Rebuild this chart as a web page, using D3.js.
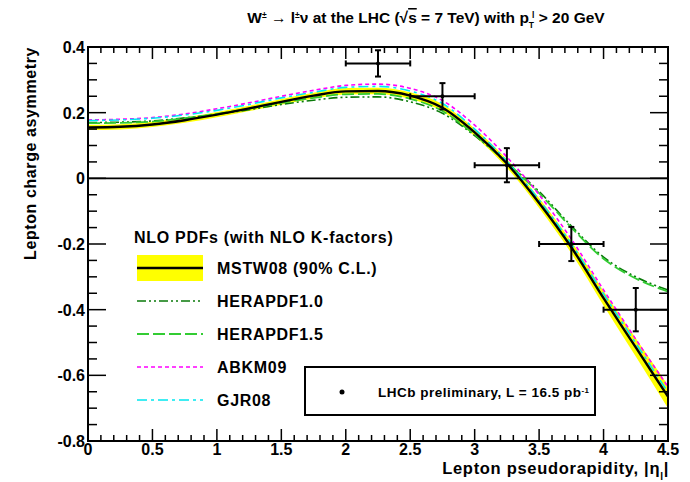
<!DOCTYPE html>
<html>
<head>
<meta charset="utf-8">
<script src="https://cdn.jsdelivr.net/npm/d3@7"></script>
<style>
  html, body { margin: 0; padding: 0; background: #fff; }
  svg { display: block; font-family: "Liberation Sans", Arial, sans-serif; font-weight: bold; }
</style>
</head>
<body>
<svg id="chart" width="690" height="482"></svg>
<script>
// ---------- data ----------
const etaGrid   = [0, 0.25, 0.5, 0.75, 1.0, 1.25, 1.5, 1.75, 2.0, 2.25, 2.5, 2.75, 3.0, 3.25, 3.5, 3.75, 4.0, 4.25, 4.5];
const mstw08    = [0.155, 0.157, 0.164, 0.177, 0.194, 0.213, 0.233, 0.252, 0.265, 0.266, 0.252, 0.215, 0.140, 0.045, -0.075, -0.210, -0.365, -0.515, -0.665];
const mstw08Err = [0.008, 0.008, 0.008, 0.008, 0.008, 0.008, 0.009, 0.009, 0.010, 0.010, 0.010, 0.011, 0.012, 0.013, 0.015, 0.018, 0.022, 0.028, 0.035];
const herapdf10 = [0.170, 0.171, 0.175, 0.184, 0.195, 0.209, 0.225, 0.238, 0.247, 0.248, 0.233, 0.198, 0.130, 0.048, -0.040, -0.145, -0.240, -0.300, -0.340];
const herapdf15 = [0.168, 0.169, 0.173, 0.183, 0.196, 0.212, 0.230, 0.245, 0.256, 0.257, 0.242, 0.205, 0.133, 0.048, -0.045, -0.150, -0.245, -0.305, -0.345];
const abkm09    = [0.178, 0.180, 0.185, 0.196, 0.212, 0.230, 0.250, 0.268, 0.283, 0.287, 0.274, 0.237, 0.162, 0.065, -0.050, -0.185, -0.340, -0.490, -0.635];
const gjr08     = [0.176, 0.178, 0.183, 0.193, 0.207, 0.225, 0.245, 0.262, 0.277, 0.280, 0.266, 0.228, 0.150, 0.052, -0.066, -0.200, -0.352, -0.502, -0.652];

const dataEta   = [2.25, 2.75, 3.25, 3.75, 4.25];
const dataBinW  = [0.25, 0.25, 0.25, 0.25, 0.25];
const dataAsym  = [0.35, 0.25, 0.04, -0.20, -0.40];
const dataErr   = [0.040, 0.040, 0.052, 0.052, 0.066];

const xTicks = [0, 0.5, 1, 1.5, 2, 2.5, 3, 3.5, 4, 4.5];
const xTickLabels = ["0", "0.5", "1", "1.5", "2", "2.5", "3", "3.5", "4", "4.5"];
const yTicks = [-0.8, -0.6, -0.4, -0.2, 0, 0.2, 0.4];
const yTickLabels = ["-0.8", "-0.6", "-0.4", "-0.2", "0", "0.2", "0.4"];

const legendNames = ["MSTW08 (90% C.L.)", "HERAPDF1.0", "HERAPDF1.5", "ABKM09", "GJR08"];

// ---------- layout ----------
const svg = d3.select("#chart");
const L = 88, R = 668, T = 47, B = 441;
const x = d3.scaleLinear().domain([0, 4.5]).range([L, R]);
const y = d3.scaleLinear().domain([-0.8, 0.4]).range([B, T]);

const styles = [
  { key: "HERAPDF1.0", vals: herapdf10, color: "#0a7a0a", width: 1.6, dash: "9,3,2,3,2,3" },
  { key: "HERAPDF1.5", vals: herapdf15, color: "#33cc33", width: 1.8, dash: "12,4" },
  { key: "ABKM09",     vals: abkm09,    color: "#ff00ff", width: 1.6, dash: "4,3" },
  { key: "GJR08",      vals: gjr08,     color: "#00e8f0", width: 1.6, dash: "10,4,3,4" }
];

svg.append("clipPath").attr("id", "plotclip")
  .append("rect").attr("x", L).attr("y", T).attr("width", R - L).attr("height", B - T);
const plot = svg.append("g").attr("clip-path", "url(#plotclip)");

const curve = d3.curveMonotoneX;
const band = d3.area()
  .x((d, i) => x(etaGrid[i]))
  .y0((d, i) => y(mstw08[i] - mstw08Err[i]))
  .y1((d, i) => y(mstw08[i] + mstw08Err[i]))
  .curve(curve);
plot.append("path").datum(mstw08).attr("d", band).attr("fill", "#ffff00");

plot.append("line").attr("x1", L).attr("x2", R).attr("y1", y(0)).attr("y2", y(0))
  .attr("stroke", "#000").attr("stroke-width", 1.6);

const line = d3.line().x((d, i) => x(etaGrid[i])).y(d => y(d)).curve(curve);

styles.forEach(s => {
  plot.append("path").datum(s.vals).attr("d", line)
    .attr("fill", "none").attr("stroke", s.color).attr("stroke-width", s.width)
    .attr("stroke-dasharray", s.dash);
});
plot.append("path").datum(mstw08).attr("d", line)
  .attr("fill", "none").attr("stroke", "#000").attr("stroke-width", 2.4);

// data points
const dp = svg.append("g").attr("stroke", "#000").attr("stroke-width", 2);
dataEta.forEach((e, i) => {
  const cx = x(e), cy = y(dataAsym[i]);
  const xl = x(e - dataBinW[i]), xr = Math.min(x(e + dataBinW[i]), R);
  const yt = y(dataAsym[i] + dataErr[i]), yb = y(dataAsym[i] - dataErr[i]);
  dp.append("line").attr("x1", xl).attr("x2", xr).attr("y1", cy).attr("y2", cy);
  dp.append("line").attr("x1", cx).attr("x2", cx).attr("y1", yt).attr("y2", yb);
  dp.append("line").attr("x1", cx - 3).attr("x2", cx + 3).attr("y1", yt).attr("y2", yt);
  dp.append("line").attr("x1", cx - 3).attr("x2", cx + 3).attr("y1", yb).attr("y2", yb);
  dp.append("line").attr("x1", xl).attr("x2", xl).attr("y1", cy - 3).attr("y2", cy + 3);
  if (x(e + dataBinW[i]) < R) dp.append("line").attr("x1", xr).attr("x2", xr).attr("y1", cy - 3).attr("y2", cy + 3);
  dp.append("circle").attr("cx", cx).attr("cy", cy).attr("r", 2).attr("fill", "#000").attr("stroke", "none");
});

// ---------- axes (ROOT-style inward ticks) ----------
const ax = svg.append("g").attr("stroke", "#000").attr("stroke-width", 1.5);
const xMinor = d3.range(0, 4.5001, 0.1);
const yMinor = d3.range(-0.8, 0.4001, 0.05);
xMinor.forEach((v, i) => {
  const len = i % 5 === 0 ? 12 : 6;
  ax.append("line").attr("x1", x(v)).attr("x2", x(v)).attr("y1", B).attr("y2", B - len);
  ax.append("line").attr("x1", x(v)).attr("x2", x(v)).attr("y1", T).attr("y2", T + len);
});
yMinor.forEach((v, i) => {
  const len = i % 4 === 0 ? 18 : 9;
  ax.append("line").attr("x1", L).attr("x2", L + len).attr("y1", y(v)).attr("y2", y(v));
  ax.append("line").attr("x1", R).attr("x2", R - len).attr("y1", y(v)).attr("y2", y(v));
});
svg.append("rect").attr("x", L).attr("y", T).attr("width", R - L).attr("height", B - T)
  .attr("fill", "none").attr("stroke", "#000").attr("stroke-width", 2);

// tick labels
svg.append("g").selectAll("text").data(xTicks).join("text")
  .attr("x", d => x(d)).attr("y", 455).attr("text-anchor", "middle")
  .attr("font-size", 16).text((d, i) => xTickLabels[i]);
svg.append("g").selectAll("text").data(yTicks).join("text")
  .attr("x", 85).attr("y", d => y(d) + 6).attr("text-anchor", "end")
  .attr("font-size", 16).text((d, i) => yTickLabels[i]);

// axis titles
const xt = svg.append("text").attr("x", R + 1).attr("y", 474).attr("text-anchor", "end")
  .attr("font-size", 16.5).attr("letter-spacing", 0.7);
xt.append("tspan").text("Lepton pseudorapidity, |η");
xt.append("tspan").attr("baseline-shift", "sub").attr("font-size", 10).text("l");
xt.append("tspan").text("|");

svg.append("text").attr("transform", `translate(36,${T}) rotate(-90)`)
  .attr("text-anchor", "end").attr("font-size", 16).attr("letter-spacing", 0.6).text("Lepton charge asymmetry");

// title
const tt = svg.append("text").attr("x", 426).attr("y", 23).attr("text-anchor", "middle").attr("font-size", 15.5);
tt.append("tspan").text("W");
tt.append("tspan").attr("baseline-shift", "super").attr("font-size", 8.5).text("±");
tt.append("tspan").text(" → l");
tt.append("tspan").attr("baseline-shift", "super").attr("font-size", 8.5).text("±");
tt.append("tspan").text("ν at the LHC (√");
tt.append("tspan").attr("text-decoration", "overline").text("s");
tt.append("tspan").text(" = 7 TeV) with p");
tt.append("tspan").attr("baseline-shift", "sub").attr("font-size", 8.5).text("T");
tt.append("tspan").attr("dx", -2).attr("baseline-shift", "super").attr("font-size", 8.5).text("l");
tt.append("tspan").text(" > 20 GeV");

// ---------- legend ----------
const lg = svg.append("g").attr("letter-spacing", 0.7);
lg.append("text").attr("x", 134).attr("y", 243).attr("font-size", 16).text("NLO PDFs (with NLO K-factors)");
const legY = [268, 301, 334, 367, 400];
lg.append("rect").attr("x", 137).attr("y", legY[0] - 13).attr("width", 66).attr("height", 26).attr("fill", "#ffff00");
lg.append("line").attr("x1", 137).attr("x2", 203).attr("y1", legY[0]).attr("y2", legY[0])
  .attr("stroke", "#000").attr("stroke-width", 2.4);
styles.forEach((s, i) => {
  lg.append("line").attr("x1", 137).attr("x2", 203).attr("y1", legY[i + 1]).attr("y2", legY[i + 1])
    .attr("stroke", s.color).attr("stroke-width", s.width).attr("stroke-dasharray", s.dash);
});
legendNames.forEach((n, i) => {
  lg.append("text").attr("x", 217).attr("y", legY[i] + 6).attr("font-size", 16).text(n);
});

// LHCb box
const lb = svg.append("g");
lb.append("rect").attr("x", 305).attr("y", 367).attr("width", 290).attr("height", 48)
  .attr("fill", "#fff").attr("stroke", "#000").attr("stroke-width", 2);
lb.append("circle").attr("cx", 342).attr("cy", 392).attr("r", 2.5).attr("fill", "#000");
const lt = lb.append("text").attr("x", 378).attr("y", 397).attr("font-size", 13.5).attr("letter-spacing", 0.5);
lt.append("tspan").text("LHCb preliminary, L = 16.5 pb");
lt.append("tspan").attr("baseline-shift", "super").attr("font-size", 8).text("-1");
</script>
</body>
</html>
